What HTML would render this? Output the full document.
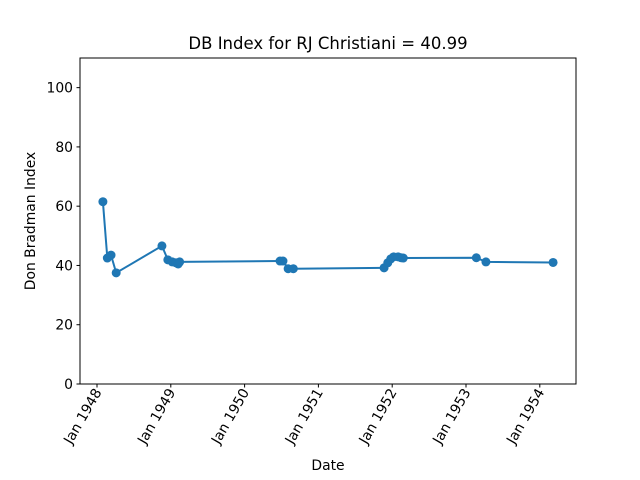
<!DOCTYPE html>
<html><head><meta charset="utf-8"><style>
body{margin:0;background:#fff}
svg{display:block;font-family:"DejaVu Sans","Liberation Sans",sans-serif}
</style></head><body>
<svg id="chart" width="640" height="480">
<rect width="640" height="480" fill="#fff"/>
<text x="328" y="49" font-size="16.5" text-anchor="middle">DB Index for RJ Christiani = 40.99</text>
<g id="grid"></g>
<g id="series"></g>
<rect x="80" y="58" width="496" height="326" fill="none" stroke="#000" stroke-width="1"/>
<text x="328" y="470" font-size="13.9" text-anchor="middle">Date</text>
<text transform="translate(35,221) rotate(-90)" font-size="13.9" text-anchor="middle">Don Bradman Index</text>
</svg>
<script>
const dates=[1948.08,1948.14,1948.19,1948.26,1948.88,1948.96,1949.02,1949.07,1949.10,1949.12,1950.48,1950.52,1950.59,1950.66,1951.89,1951.94,1951.98,1952.02,1952.08,1952.12,1952.15,1953.14,1953.27,1954.18];
const dbIndex=[61.5,42.5,43.5,37.5,46.6,41.9,41.2,40.9,40.5,41.2,41.5,41.5,38.9,38.9,39.2,40.9,42.2,42.9,42.9,42.6,42.5,42.6,41.2,41.0];
const yTicks=[0,20,40,60,80,100];
const xTickYears=[1948,1949,1950,1951,1952,1953,1954];
const xTickLabels=["Jan 1948","Jan 1949","Jan 1950","Jan 1951","Jan 1952","Jan 1953","Jan 1954"];
const NS="http://www.w3.org/2000/svg";
const X=t=>97+(t-1948)*73.8;
const Y=v=>384-(v/110)*326;
const g=document.getElementById('grid'),s=document.getElementById('series');
function mk(tag,attrs,parent){const e=document.createElementNS(NS,tag);for(const k in attrs)e.setAttribute(k,attrs[k]);parent.appendChild(e);return e;}
yTicks.forEach(v=>{
 const l=mk('line',{x1:76.5,x2:80,y1:Y(v),y2:Y(v),stroke:'#000'},g);
 
 
 const t=mk('text',{x:73,y:Y(v)+5,'font-size':13.9,'text-anchor':'end'},g);
 t.textContent=v;
 
 
});
xTickYears.forEach((yr,i)=>{
 const x=X(yr);
 const l=mk('line',{x1:x,x2:x,y1:384,y2:387.5,stroke:'#000'},g);
 
 
 const t=mk('text',{transform:`translate(${x+5},${392}) rotate(-60)`,'font-size':13.9,'text-anchor':'end'},g);
 t.textContent=xTickLabels[i];
 
 
});
const pts=dates.map((d,i)=>X(d)+','+Y(dbIndex[i])).join(' ');
const pl=mk('polyline',{points:pts,fill:'none',stroke:'#1f77b4','stroke-width':2},s);


dates.forEach((d,i)=>{
 const c=mk('circle',{cx:X(d),cy:Y(dbIndex[i]),r:4.5,fill:'#1f77b4'},s);
 
 
});
</script>
</body></html>
